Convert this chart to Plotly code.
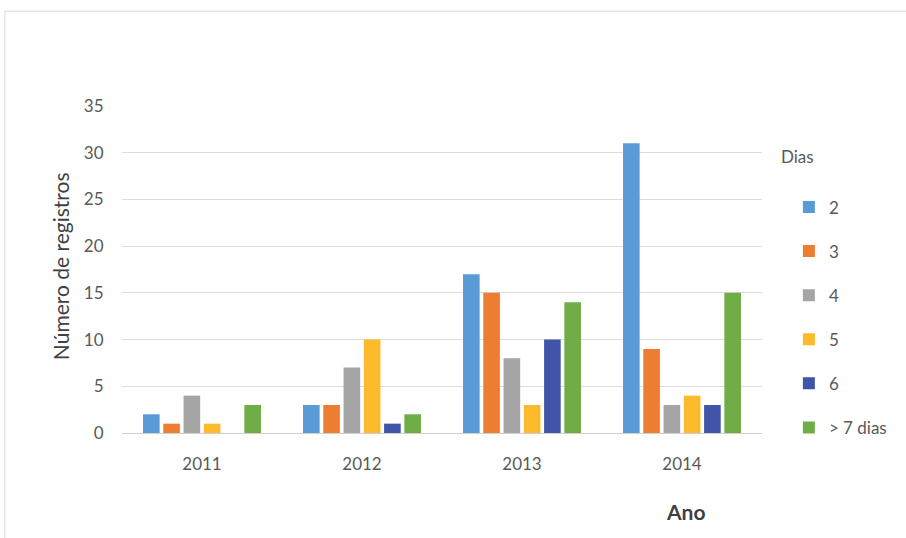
import plotly.graph_objects as go

years = ["2011", "2012", "2013", "2014"]
series_names = ["2", "3", "4", "5", "6", "> 7 dias"]
values_2 = [2, 3, 17, 31]
values_3 = [1, 3, 15, 9]
values_4 = [4, 7, 8, 3]
values_5 = [1, 10, 3, 4]
values_6 = [0, 1, 10, 3]
values_7 = [3, 2, 14, 15]
colors = ["#5B9BD5", "#ED7D31", "#A5A5A5", "#FDBA2C", "#4054A8", "#70AD47"]

all_values = [values_2, values_3, values_4, values_5, values_6, values_7]

fig = go.Figure()
for i, (name, vals) in enumerate(zip(series_names, all_values)):
    fig.add_trace(go.Bar(x=years, y=vals, name=name, marker_color=colors[i],
                         legendgroup=name, marker_line_width=0))

font_family = "Lato, Open Sans, sans-serif"
txt = "#595959"
fig.update_layout(
    width=906, height=538,
    margin=dict(l=122, r=144, t=106, b=105),
    paper_bgcolor="white", plot_bgcolor="white",
    barmode="group", bargap=0.24, bargroupgap=0.18,
    font=dict(family=font_family, size=17, color=txt),
    showlegend=True,
    legend=dict(
        x=1.042, xanchor="left", y=0.745, yanchor="top",
        tracegroupgap=19, traceorder="grouped",
        font=dict(size=17, color=txt),
        bgcolor="rgba(0,0,0,0)",
    ),
    xaxis=dict(showline=True, linecolor="#D0D0D0", ticks="outside", ticklen=16,
               tickcolor="rgba(0,0,0,0)", tickfont=dict(size=17, color=txt)),
    yaxis=dict(range=[0, 35], dtick=5, showgrid=True, gridcolor="#DCDCDC",
               zeroline=False, ticks="outside", ticklen=14, tickcolor="rgba(0,0,0,0)",
               tickfont=dict(size=17, color=txt)),
    annotations=[
        dict(text="<b>Ano</b>", x=0.88, y=-0.24, xref="paper", yref="paper",
             xanchor="center", yanchor="middle", showarrow=False,
             font=dict(size=21, color="#404040")),
        dict(text="Número de registros", x=-0.097, y=0.51, xref="paper", yref="paper",
             xanchor="center", yanchor="middle", showarrow=False, textangle=-90,
             font=dict(size=21, color="#404040")),
        dict(text="Dias", x=1.026, y=0.845, xref="paper", yref="paper",
             xanchor="left", yanchor="middle", showarrow=False,
             font=dict(size=17, color=txt)),
    ],
    shapes=[
        dict(type="rect", xref="paper", yref="paper", x0=-0.183, x1=1.3, y0=-0.4, y1=1.29,
             line=dict(color="#D8D8D8", width=1), fillcolor="rgba(0,0,0,0)", layer="below"),
    ],
)

fig.write_html("out.html")
